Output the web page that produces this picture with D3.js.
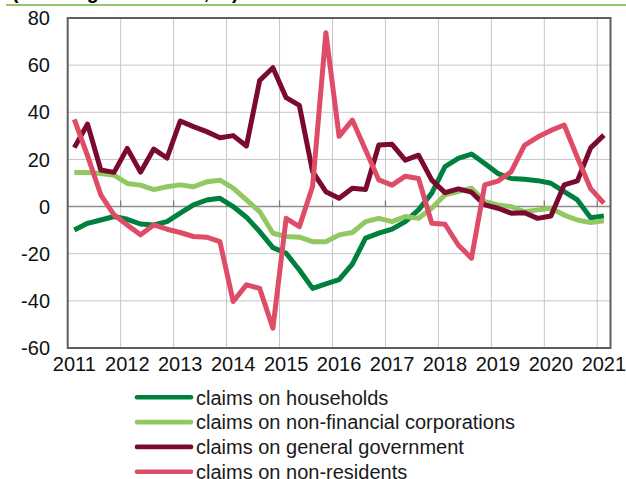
<!DOCTYPE html>
<html>
<head>
<meta charset="utf-8">
<script src="https://cdn.jsdelivr.net/npm/d3@7"></script>
<style>
  html, body { margin: 0; padding: 0; background: #fff; }
  svg { display: block; font-family: "Liberation Sans", Arial, sans-serif; }
</style>
</head>
<body>
<svg id="chart" width="626" height="479"></svg>
<script>
// ---- data ----
const quarters = [
  "2011Q1","2011Q2","2011Q3","2011Q4","2012Q1","2012Q2","2012Q3","2012Q4",
  "2013Q1","2013Q2","2013Q3","2013Q4","2014Q1","2014Q2","2014Q3","2014Q4",
  "2015Q1","2015Q2","2015Q3","2015Q4","2016Q1","2016Q2","2016Q3","2016Q4",
  "2017Q1","2017Q2","2017Q3","2017Q4","2018Q1","2018Q2","2018Q3","2018Q4",
  "2019Q1","2019Q2","2019Q3","2019Q4","2020Q1","2020Q2","2020Q3","2020Q4",
  "2021Q1"
];
const yearTicks = ["2011","2012","2013","2014","2015","2016","2017","2018","2019","2020","2021"];
const yTicks = [-60, -40, -20, 0, 20, 40, 60, 80];

const households = [-9.9, -7.1, -5.7, -4.2, -5.4, -7.4, -7.8, -6.4, -2.8, 0.7, 2.8, 3.5, 0, -4.5, -10.6, -17.4,
  -19.8, -26.9, -34.7, -32.8, -31.0, -24.4, -13.4, -11.3, -9.6, -6.4, -1.4, 5.7, 16.9, 20.4, 22.3, 18.3,
  14.0, 11.9, 11.6, 11.0, 9.9, 6.3, 2.8, -4.7, -4.0];
const nonFinancial = [14.5, 14.5, 14.0, 13.3, 9.8, 9.1, 7.2, 8.4, 9.2, 8.4, 10.5, 11.2, 7.8, 2.8, -2.1, -11.3,
  -12.7, -13.0, -14.9, -14.9, -12.0, -11.0, -6.4, -5.0, -6.4, -4.2, -5.0, -0.7, 5.0, 6.4, 7.8, 2.1,
  0.7, 0.0, -2.2, -1.4, -0.7, -3.6, -5.7, -6.8, -6.0];
const government = [25.0, 35.0, 15.5, 14.5, 24.7, 14.6, 24.4, 20.6, 36.3, 33.9, 31.8, 29.2, 30.1, 25.7, 53.5, 58.9,
  46.2, 42.9, 14.8, 6.3, 3.5, 7.8, 7.2, 26.1, 26.4, 19.7, 21.8, 11.2, 5.9, 7.5, 6.1, 0.7,
  -0.7, -2.8, -2.6, -5.0, -4.0, 9.2, 10.9, 24.9, 30.3];
const nonResidents = [37.0, 21.5, 5.0, -3.5, -7.8, -12.0, -7.8, -9.6, -11.0, -12.7, -13.0, -14.9, -40.3, -33.2, -34.7, -51.6,
  -5.0, -8.5, 8.6, 73.7, 29.8, 36.7, 24.0, 11.3, 9.1, 12.9, 11.9, -7.1, -7.5, -16.3, -21.9, 9.2,
  10.8, 14.8, 26.0, 29.5, 32.3, 34.6, 20.8, 7.6, 1.4];

const seriesNames = ["claims on households", "claims on non-financial corporations",
  "claims on general government", "claims on non-residents"];
const seriesColors = ["#00803f", "#92c861", "#7a0a30", "#de4c68"];
const seriesValues = [households, nonFinancial, government, nonResidents];

// ---- layout ----
const svg = d3.select("#chart");
const plotLeft = 67.7, plotRight = 610.5, plotTop = 18, plotBottom = 348;
const fontSize = 20;

const x = d3.scaleBand().domain(quarters).range([plotLeft, plotRight]).paddingInner(0).paddingOuter(0);
const y = d3.scaleLinear().domain([-60, 80]).range([plotBottom, plotTop]);
const yearStart = yr => yr + "Q1";

// header remnant (cut off at the top edge, as in the source)
svg.append("text")
  .attr("x", 12).attr("y", -1)
  .attr("font-size", 19.5).attr("font-weight", "bold").attr("fill", "#000")
  .text("(annual growth rates, %)");
svg.append("line")
  .attr("x1", 6).attr("x2", 626).attr("y1", 5).attr("y2", 5)
  .attr("stroke", "#92c86a").attr("stroke-width", 2.2);

// gridlines
const grid = svg.append("g");
grid.selectAll("line.h").data(yTicks.filter(t => t !== 0 && t !== 80 && t !== -60)).join("line")
  .attr("x1", plotLeft).attr("x2", plotRight)
  .attr("y1", d => y(d)).attr("y2", d => y(d))
  .attr("stroke", "#c6c6c6").attr("stroke-width", 1);
grid.selectAll("line.v").data(yearTicks.slice(1)).join("line")
  .attr("x1", d => x(yearStart(d))).attr("x2", d => x(yearStart(d)))
  .attr("y1", plotTop).attr("y2", plotBottom)
  .attr("stroke", "#c6c6c6").attr("stroke-width", 1);

// zero line with ticks
svg.append("line")
  .attr("x1", plotLeft).attr("x2", plotRight).attr("y1", y(0)).attr("y2", y(0))
  .attr("stroke", "#8e8e8e").attr("stroke-width", 1.6);
svg.append("g").selectAll("line").data(yearTicks.slice(1)).join("line")
  .attr("x1", d => x(yearStart(d))).attr("x2", d => x(yearStart(d)))
  .attr("y1", y(0)).attr("y2", y(0) - 6)
  .attr("stroke", "#777").attr("stroke-width", 1.2);

// series lines
const line = d3.line()
  .x((d, i) => x(quarters[i]) + x.bandwidth() / 2)
  .y(d => y(d));
seriesValues.forEach((vals, k) => {
  svg.append("path")
    .datum(vals)
    .attr("d", line)
    .attr("fill", "none")
    .attr("stroke", seriesColors[k])
    .attr("stroke-width", 5)
    .attr("stroke-linejoin", "round")
    .attr("stroke-linecap", "butt");
});

// frame
svg.append("rect")
  .attr("x", plotLeft).attr("y", plotTop).attr("width", plotRight - plotLeft).attr("height", plotBottom - plotTop)
  .attr("fill", "none").attr("stroke", "#5e5e5e").attr("stroke-width", 2);

// y axis labels
svg.append("g").selectAll("text").data(yTicks).join("text")
  .attr("x", 50).attr("y", d => y(d))
  .attr("dy", "0.36em")
  .attr("text-anchor", "end")
  .attr("font-size", fontSize).attr("fill", "#111")
  .text(d => d);

// x axis labels (centered on Q1 of each year)
svg.append("g").selectAll("text").data(yearTicks).join("text")
  .attr("x", d => x(yearStart(d)) + x.bandwidth() / 2)
  .attr("y", 370.5)
  .attr("text-anchor", "middle")
  .attr("font-size", fontSize).attr("fill", "#111")
  .text(d => d);

// legend
const legend = svg.append("g");
seriesNames.forEach((name, k) => {
  const ly = 397.3 + k * 24.8;
  legend.append("line")
    .attr("x1", 137).attr("x2", 191).attr("y1", ly).attr("y2", ly)
    .attr("stroke", seriesColors[k]).attr("stroke-width", 4.6).attr("stroke-linecap", "round");
  legend.append("text")
    .attr("x", 196).attr("y", ly).attr("dy", "0.36em")
    .attr("font-size", fontSize).attr("fill", "#1a1a1a")
    .text(name);
});
</script>
</body>
</html>
